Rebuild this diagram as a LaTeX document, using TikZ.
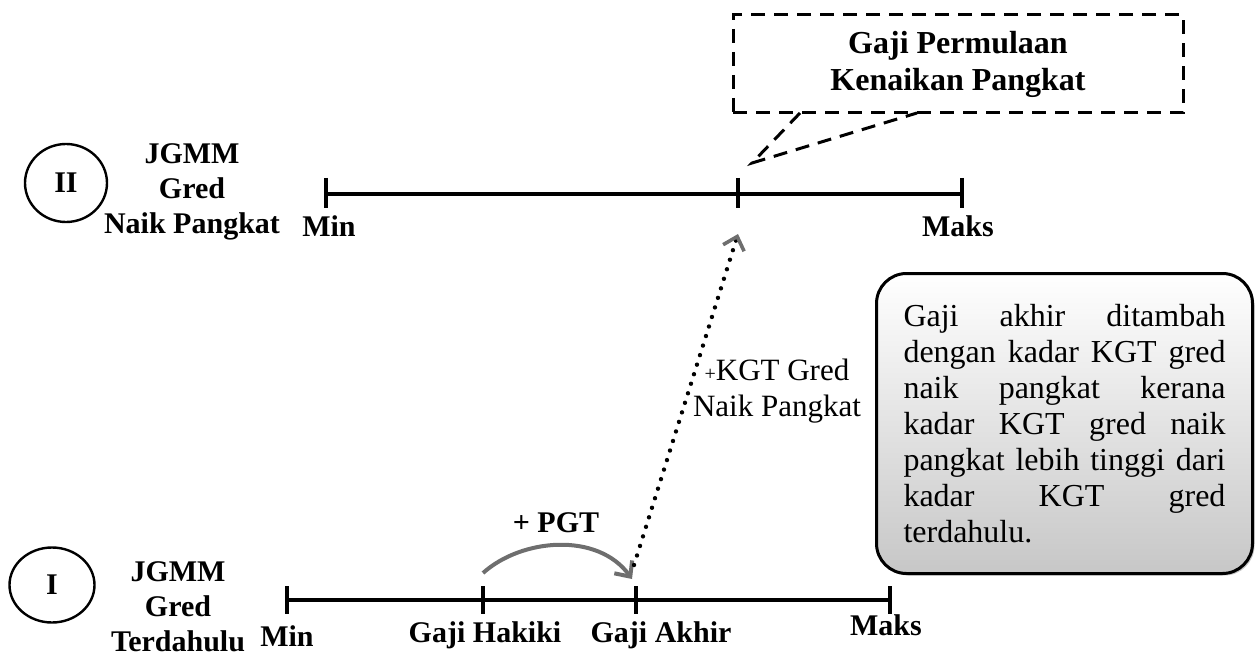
\documentclass[tikz,border=0pt]{standalone}
\usepackage{fontspec}
\setmainfont{Liberation Serif}
\usetikzlibrary{arrows.meta,shapes.geometric,shadows}
\definecolor{arrowgrey}{HTML}{6E6E6E}
\begin{document}
\begin{tikzpicture}[x=0.5pt,y=-0.5pt,
  axis/.style={line width=2pt},
  tickmark/.style={line width=2pt},
  lbl/.style={font=\bfseries\fontsize{15}{17.5}\selectfont, inner sep=0pt, align=center},
  numcircle/.style={ellipse, draw, line width=1.2pt, inner sep=0pt, font=\bfseries\fontsize{15}{17}\selectfont},
  callout/.style={draw, line width=1.5pt, dash pattern=on 7pt off 4.5pt},
  pgtarrow/.style={draw=arrowgrey, line width=2pt, -{Straight Barb[length=6pt,width=11pt,line width=2pt]}},
  kgtarrow/.style={line width=2.2pt, line cap=round, dash pattern=on 0pt off 5pt,
     -{Straight Barb[length=6pt,width=11pt,line width=1.8pt,color=arrowgrey]}},
  notebox/.style={draw, line width=1.5pt, rounded corners=15pt, text width=161pt,
     inner xsep=13.5pt, inner ysep=6pt, minimum height=150pt, align=justify,
     top color=white, middle color=white, bottom color=black!22,
     font=\fontsize{16}{18}\selectfont,
     drop shadow={shadow xshift=1pt, shadow yshift=-1pt, opacity=0.45}}
]
\useasboundingbox (0,0) rectangle (1257,663);

% ---------- Upper scale (II) ----------
\node[numcircle, minimum width=41pt, minimum height=39pt] (cII) at (66,183) {II};
\node[lbl] (tII) at (192,192) {JGMM\\Gred\\Naik Pangkat};

\coordinate (uMin) at (326,194);
\coordinate (uMid) at (738,194);
\coordinate (uMax) at (962,194);
\draw[axis] (uMin) -- (uMax);
\foreach \p in {uMin,uMid,uMax}
  \draw[tickmark] ([yshift=8pt]\p) -- ([yshift=-7pt]\p);
\node[lbl] (lUMin) at (329,226) {Min};
\node[lbl] (lUMax) at (958,226) {Maks};

% ---------- Callout ----------
\node[callout, minimum width=225pt, minimum height=49pt, inner sep=0pt,
      font=\bfseries\fontsize{16}{18.5}\selectfont, align=center] (cb) at (958,64)
      {Gaji Permulaan\\Kenaikan Pangkat};
\coordinate (tailA) at (800,113);
\coordinate (tailB) at (917,113);
\coordinate (tailTip) at (752,163);
\draw[callout] (tailA) -- (tailTip) -- (tailB);

% ---------- Lower scale (I) ----------
\node[numcircle, minimum width=42.5pt, minimum height=37.5pt] (cI) at (52,585) {I};
\node[lbl] (tI) at (178,607) {JGMM\\Gred\\Terdahulu};

\coordinate (lMin) at (287,600);
\coordinate (lHak) at (483,600);
\coordinate (lAkh) at (636,600);
\coordinate (lMax) at (890,600);
\draw[axis] (lMin) -- (lMax);
\foreach \p in {lMin,lHak,lAkh,lMax}
  \draw[tickmark] ([yshift=7pt]\p) -- ([yshift=-7pt]\p);
\node[lbl] (lLMin) at (287,636) {Min};
\node[lbl] (lLHak) at (485,635) {Gaji Hakiki};
\node[lbl] (lLAkh) at (661,635) {Gaji Akhir};
\node[lbl] (lLMax) at (886,625) {Maks};

% ---------- + PGT arrow ----------
\node[lbl] (pgt) at (556,523) {+ PGT};
\coordinate (pgtStart) at (483,573);
\coordinate (pgtEnd) at (632,579);
\draw[pgtarrow] (pgtStart) .. controls (522,538) and (598,532) .. (pgtEnd);

% ---------- + KGT dotted arrow ----------
\coordinate (kgtStart) at (634,565);
\coordinate (kgtEnd) at (738,234);
\draw[kgtarrow] (kgtStart) -- (kgtEnd);
\node[inner sep=0pt, align=center, font=\fontsize{15.5}{18}\selectfont] (kgt) at (777,391)
   {{\fontsize{10}{10}\selectfont +}KGT Gred\\Naik Pangkat};

% ---------- Note box ----------
\node[notebox, anchor=north west] (note) at (875,272)
  {\hyphenpenalty=10000 Gaji akhir ditambah\linebreak
   dengan kadar KGT gred\linebreak
   naik pangkat kerana\linebreak
   kadar KGT gred naik\linebreak
   pangkat lebih tinggi dari\linebreak
   kadar KGT gred\linebreak
   terdahulu.};

\end{tikzpicture}
\end{document}
